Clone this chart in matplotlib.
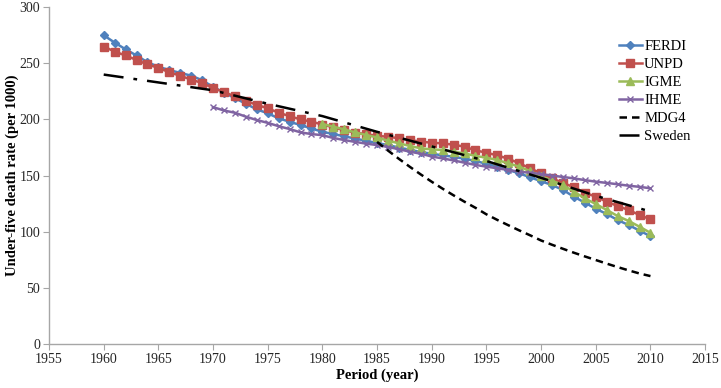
import numpy as np
import matplotlib.pyplot as plt

# data (under-five death rate per 1000)
years_ferdi = list(range(1960, 2011))
ferdi = [275, 268.5, 262.5, 257, 251, 247, 244, 241.5, 239, 235,
         229, 224, 219, 214, 209, 205.5, 201, 198, 195, 192,
         189, 187, 185, 183, 181, 179, 177.2, 175, 173, 171,
         169.5, 168, 166.8, 165, 163, 160.5, 158, 155, 152, 148.5,
         145, 141.6, 137.2, 131.2, 125.9, 120.5, 115.8, 110.4, 106, 101,
         96]

years_unpd = list(range(1960, 2011))
unpd = [265, 260.5, 257, 253, 249, 246, 242, 239, 235.5, 232.5,
        228, 224.5, 220.5, 216.5, 213, 210, 206, 203, 200, 198,
        195.5, 193, 190.5, 188.2, 187, 185.3, 184.7, 183.2, 181.7, 180.2,
        179.3, 178.7, 177.5, 175.8, 172.5, 170.4, 168, 165, 161, 156.5,
        152, 147.5, 143.5, 139.6, 134.8, 131.2, 126.8, 122.9, 119.4, 114.9,
        111]

years_igme = list(range(1980, 2011))
igme = [196, 193.6, 191.2, 188.5, 186.2, 184, 181.1, 178.8, 176.4, 174.3,
        173.4, 172.8, 171.3, 169.8, 167.5, 166, 163.9, 160.9, 158, 154,
        149.5, 145.5, 141.6, 135.7, 129.7, 124.7, 119.4, 114, 109.6, 104.5,
        99]

years_ihme = list(range(1970, 2011))
ihme = [211, 208, 206, 202.5, 199.5, 197, 194, 191.5, 188.5, 187,
        186, 183.5, 181.7, 180, 178.5, 177.2, 175.5, 173.5, 171.3, 169.5,
        167, 165.3, 163.5, 161.5, 159.5, 158, 156.5, 155, 153.5, 152.5,
        151.4, 150, 148.8, 147.5, 146, 144.6, 143.5, 142.3, 141, 140,
        138.7]

years_mdg4 = list(range(1985, 2011))
mdg4 = [180, 172.3, 164.9, 157.8, 151.0, 144.5, 138.3, 132.4, 126.7, 121.3,
        115.5, 110.5, 105.8, 101.2, 96.8, 92.2, 88.4, 84.8, 81.3, 78.0,
        74.8, 71.6, 68.5, 65.6, 62.8, 60.5]

years_sweden = [1960, 1965, 1970, 1975, 1980, 1985, 1990, 1995, 2000, 2005, 2010]
sweden = [240, 233, 226, 214, 203, 189, 176, 163, 148, 132, 118]

plt.rcParams['font.family'] = ['Liberation Serif', 'DejaVu Serif']

fig = plt.figure(figsize=(7.21, 3.88), dpi=100)
ax = fig.add_axes([0.068, 0.1134, 0.910, 0.868])

ax.plot(years_ferdi, ferdi, color='#4F81BD', lw=1.8, marker='D', ms=4.5, label='FERDI')
ax.plot(years_unpd, unpd, color='#C0504D', lw=1.8, marker='s', ms=5.5, label='UNPD')
ax.plot(years_igme, igme, color='#9BBB59', lw=1.8, marker='^', ms=5.5, label='IGME')
ax.plot(years_ihme, ihme, color='#8064A2', lw=1.8, marker='x', ms=5, mew=1, label='IHME')
ax.plot(years_mdg4, mdg4, color='black', lw=1.8, ls=(0, (3, 2)), label='MDG4')
ax.plot(years_sweden, sweden, color='black', lw=1.8, ls=(0, (8, 4, 1.5, 4)), label='Sweden')

ax.set_xlim(1955, 2015)
ax.set_ylim(0, 300)
ax.set_xticks(np.arange(1955, 2016, 5))
ax.set_yticks(np.arange(0, 301, 50))

for s in ['top', 'right']:
    ax.spines[s].set_visible(False)
for s in ['left', 'bottom']:
    ax.spines[s].set_color('#A6A6A6')
    ax.spines[s].set_linewidth(1)
ax.tick_params(colors='#A6A6A6', labelcolor='#262626', labelsize=10, length=4,
               direction='out', pad=2.5)

ax.set_xlabel('Period (year)', fontsize=10.5, fontweight='bold', labelpad=2)
ax.set_ylabel('Under-five death rate (per 1000)', fontsize=10.5, fontweight='bold')
ax.yaxis.set_label_coords(-0.046, 0.5)

ax.legend(loc='upper left', bbox_to_anchor=(0.848, 0.915), bbox_transform=fig.transFigure,
          frameon=False, fontsize=10.5, handlelength=1.6, handletextpad=0.15,
          labelspacing=0.32, borderpad=0)

plt.savefig('out.png', dpi=100)
